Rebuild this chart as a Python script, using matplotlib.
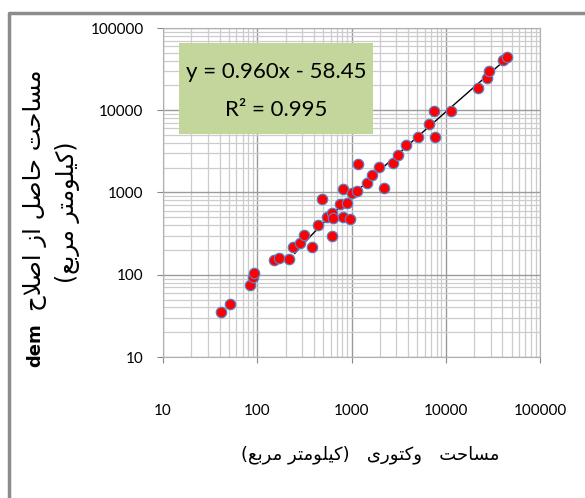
import numpy as np
import matplotlib
matplotlib.use('Agg')
import matplotlib.pyplot as plt
from matplotlib.lines import Line2D
from matplotlib.patches import Rectangle
from matplotlib.ticker import LogLocator, NullFormatter, FixedLocator

# areas: vector map (x) vs. corrected dem (y), km^2
area_vector = [41, 51, 84, 91, 93, 152, 172, 219, 237, 284, 314, 384, 438, 483,
               545, 617, 617, 632, 755, 807, 819, 889, 965, 1004, 1135, 1181,
               1472, 1637, 1972, 2229, 2735, 3139, 3785, 5117, 6697, 7506, 7694,
               11380, 22180, 27600, 29000, 40200, 44200]
area_dem = [35, 44, 75, 95, 104, 151, 158, 154, 219, 241, 304, 219, 402, 834,
            508, 558, 296, 485, 718, 1094, 499, 752, 472, 977, 1052, 2218,
            1316, 1633, 2060, 1125, 2307, 2860, 3784, 4690, 6745, 9886, 4775,
            9886, 18800, 24400, 30300, 40800, 44800]
slope = 0.960
intercept = -58.45
r2 = 0.995
trend_start = 250
tick_vals = [10, 100, 1000, 10000, 100000]

# ---- minimal arabic shaping (matplotlib has no bidi / joining) ----
FORMS = {
    'ا': ('\uFE8D', '\uFE8E', None, None),
    'ب': ('\uFE8F', '\uFE90', '\uFE91', '\uFE92'),
    'ت': ('\uFE95', '\uFE96', '\uFE97', '\uFE98'),
    'ج': ('\uFE9D', '\uFE9E', '\uFE9F', '\uFEA0'),
    'ح': ('\uFEA1', '\uFEA2', '\uFEA3', '\uFEA4'),
    'ر': ('\uFEAD', '\uFEAE', None, None),
    'ز': ('\uFEAF', '\uFEB0', None, None),
    'س': ('\uFEB1', '\uFEB2', '\uFEB3', '\uFEB4'),
    'ص': ('\uFEB9', '\uFEBA', '\uFEBB', '\uFEBC'),
    'ع': ('\uFEC9', '\uFECA', '\uFECB', '\uFECC'),
    'ل': ('\uFEDD', '\uFEDE', '\uFEDF', '\uFEE0'),
    'م': ('\uFEE1', '\uFEE2', '\uFEE3', '\uFEE4'),
    'و': ('\uFEED', '\uFEEE', None, None),
    'ک': ('\uFB8E', '\uFB8F', '\uFB90', '\uFB91'),
    'ی': ('\uFBFC', '\uFBFD', '\uFBFE', '\uFBFF'),
}


def shape(text):
    out = []
    i = 0
    prev_joins = False
    while i < len(text):
        c = text[i]
        if c not in FORMS:
            out.append(c)
            prev_joins = False
            i += 1
            continue
        if c == 'ل' and i + 1 < len(text) and text[i + 1] == 'ا':
            out.append('\uFEFC' if prev_joins else '\uFEFB')
            prev_joins = False
            i += 2
            continue
        iso, fin, ini, med = FORMS[c]
        nxt = text[i + 1] if i + 1 < len(text) else None
        joins_next = ini is not None and nxt in FORMS
        if prev_joins and joins_next:
            g = med
        elif prev_joins:
            g = fin
        elif joins_next:
            g = ini
        else:
            g = iso
        out.append(g)
        prev_joins = ini is not None
        i += 1
    return ''.join(out)


def rtl(text):
    s = shape(text)[::-1]
    return s.translate({ord('('): ')', ord(')'): '('})


W, H = 585, 498
fig = plt.figure(figsize=(W / 100, H / 100), dpi=100)


def fx(px):
    return px / W


def fy(py):
    return 1 - py / H


ax = fig.add_axes([fx(163), fy(357), fx(540) - fx(163), fy(28) - fy(357)])
ax.set_xscale('log')
ax.set_yscale('log')
ax.set_xlim(10, 100000)
ax.set_ylim(10, 100000)

ax.xaxis.set_minor_locator(LogLocator(base=10, subs=np.arange(2, 10)))
ax.yaxis.set_minor_locator(LogLocator(base=10, subs=np.arange(2, 10)))
ax.xaxis.set_minor_formatter(NullFormatter())
ax.yaxis.set_minor_formatter(NullFormatter())
ax.set_xticks(tick_vals, [str(v) for v in tick_vals])
ax.set_yticks(tick_vals, [str(v) for v in tick_vals])

ax.grid(True, which='minor', color='#cccccc', linewidth=0.9)
ax.grid(True, which='major', color='#9a9a9a', linewidth=1.0)
ax.set_axisbelow(True)
for s in ax.spines.values():
    s.set_color('#b0b0b0')
ax.tick_params(which='minor', length=0)
ax.tick_params(which='major', length=4, color='#888888', labelsize=11)
ax.tick_params(axis='x', pad=30)
ax.tick_params(axis='y', pad=10)
for lab in ax.get_xticklabels() + ax.get_yticklabels():
    lab.set_family(['Lato', 'DejaVu Sans'])
    lab.set_color('black')

# trendline
xt = np.logspace(np.log10(trend_start), np.log10(max(area_vector)), 100)
ax.plot(xt, slope * xt + intercept, color='black', linewidth=1.0, zorder=3)

ax.plot(area_vector, area_dem, linestyle='None', marker='o', markersize=7.5,
        markerfacecolor='#ff0000', markeredgecolor='#5a7fc4',
        markeredgewidth=0.9, zorder=4)

# equation box
fig.patches.append(Rectangle((fx(179), fy(134)), fx(373) - fx(179),
                             fy(43) - fy(134), transform=fig.transFigure,
                             facecolor='#c3d69b', edgecolor='none', zorder=5))
fig.text(fx(276), fy(72), 'y = %.3fx - %.2f' % (slope, -intercept),
         family=['Lato', 'DejaVu Sans'], fontsize=16, ha='center', va='center',
         color='black', zorder=6)
fig.text(fx(276), fy(110), 'R² = %.3f' % r2,
         family=['Lato', 'DejaVu Sans'], fontsize=16, ha='center', va='center',
         color='black', zorder=6)

# axis titles
fig.text(fx(35), fy(190), rtl('مساحت حاصل از اصلاح'), rotation=90,
         family='DejaVu Sans', fontsize=17.5, ha='center', va='center')
fig.text(fx(35), fy(345), 'dem', rotation=90, family='DejaVu Sans',
         fontsize=13, fontweight='bold', ha='center', va='center')
fig.text(fx(68), fy(212), rtl('(کیلومتر مربع)'), rotation=90,
         family='DejaVu Sans', fontsize=17, ha='center', va='center')
fig.text(fx(370), fy(455), rtl('مساحت   وکتوری   (کیلومتر مربع)'),
         family='DejaVu Sans', fontsize=13, ha='center', va='center')

# outer frame (left and top only)
fig.lines.append(Line2D([fx(9), fx(9), 1], [0, fy(13), fy(13)],
                        transform=fig.transFigure, color='#8c8c8c',
                        linewidth=2.5))

fig.savefig('out.png', dpi=100)
